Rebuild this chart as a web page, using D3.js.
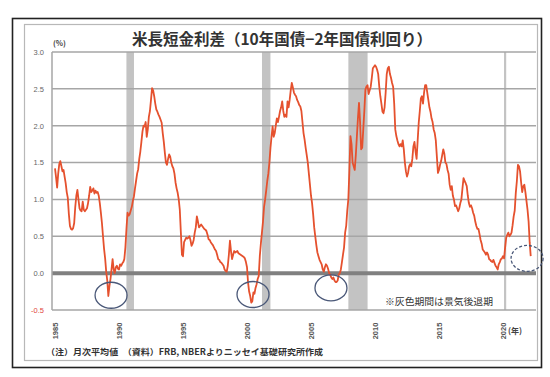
<!DOCTYPE html>
<html>
<head>
<meta charset="utf-8">
<script src="https://cdn.jsdelivr.net/npm/d3@7"></script>
<style>
body { margin: 0; background: #fff; }
text { font-family: "Noto Sans CJK JP", sans-serif; }
</style>
</head>
<body>
<script>
//Width and height
var w = 550;
var h = 377;

// monthly average of 10y - 2y spread (%), from Jan 1985
var startYear = 1985;
var spread = [
  1.42, 1.30, 1.16, 1.35, 1.48, 1.52, 1.45, 1.38, 1.40, 1.31, 1.22, 1.10, // 1985
  1.02, 0.80, 0.64, 0.60, 0.59, 0.61, 0.68, 0.90, 1.05, 1.13, 1.00, 0.88, // 1986
  0.85, 0.84, 0.97, 0.86, 0.84, 0.86, 0.88, 0.95, 1.05, 1.17, 1.10, 1.12, // 1987
  1.15, 1.08, 1.12, 1.09, 1.10, 1.05, 0.95, 0.82, 0.68, 0.50, 0.33, 0.20, // 1988
  0.02, -0.10, -0.31, -0.18, -0.08, 0.05, 0.19, 0.05, 0.00, 0.08, 0.10, 0.06, // 1989
  0.05, 0.12, 0.10, 0.13, 0.15, 0.19, 0.35, 0.60, 0.82, 0.78, 0.80, 0.85, // 1990
  0.90, 0.98, 1.04, 1.15, 1.25, 1.35, 1.41, 1.55, 1.65, 1.78, 1.92, 2.00, // 1991
  1.99, 2.05, 1.85, 1.95, 2.12, 2.20, 2.35, 2.51, 2.48, 2.40, 2.30, 2.22, // 1992
  2.19, 2.15, 2.12, 2.08, 2.04, 1.90, 1.78, 1.63, 1.50, 1.47, 1.55, 1.61, // 1993
  1.58, 1.50, 1.45, 1.42, 1.35, 1.23, 1.15, 1.09, 1.00, 0.86, 0.55, 0.25, // 1994
  0.23, 0.42, 0.45, 0.48, 0.47, 0.48, 0.50, 0.45, 0.37, 0.40, 0.45, 0.55, // 1995
  0.62, 0.77, 0.70, 0.62, 0.64, 0.66, 0.64, 0.62, 0.60, 0.59, 0.57, 0.52, // 1996
  0.46, 0.45, 0.42, 0.40, 0.38, 0.35, 0.32, 0.30, 0.25, 0.19, 0.18, 0.15, // 1997
  0.14, 0.12, 0.10, 0.05, 0.03, 0.02, 0.10, 0.25, 0.44, 0.30, 0.19, 0.25, // 1998
  0.30, 0.28, 0.29, 0.30, 0.27, 0.26, 0.25, 0.24, 0.23, 0.22, 0.20, 0.15, // 1999
  0.08, -0.13, -0.25, -0.31, -0.40, -0.38, -0.26, -0.28, -0.20, -0.15, -0.08, -0.04, // 2000
  0.23, 0.40, 0.55, 0.70, 0.90, 1.00, 1.12, 1.25, 1.35, 1.50, 1.70, 1.85, // 2001
  1.99, 1.85, 1.90, 2.00, 2.10, 2.05, 2.12, 2.20, 2.25, 2.33, 2.20, 2.12, // 2002
  2.15, 2.12, 2.33, 2.25, 2.35, 2.48, 2.58, 2.52, 2.45, 2.42, 2.40, 2.35, // 2003
  2.32, 2.28, 2.26, 2.20, 2.05, 1.90, 1.81, 1.70, 1.60, 1.50, 1.35, 1.20, // 2004
  1.05, 0.95, 0.80, 0.62, 0.50, 0.38, 0.28, 0.23, 0.18, 0.15, 0.12, 0.05, // 2005
  0.02, 0.08, 0.12, 0.10, 0.06, 0.00, -0.02, -0.06, -0.08, -0.06, -0.10, -0.12, // 2006
  -0.12, -0.10, -0.02, 0.00, 0.05, 0.15, 0.25, 0.35, 0.55, 0.64, 0.85, 1.00, // 2007
  1.40, 1.86, 1.75, 1.50, 1.45, 1.40, 1.60, 1.85, 2.10, 2.31, 2.05, 1.68, // 2008
  1.70, 1.95, 2.20, 2.49, 2.53, 2.55, 2.43, 2.48, 2.53, 2.65, 2.78, 2.80, // 2009
  2.82, 2.80, 2.76, 2.70, 2.53, 2.40, 2.30, 2.19, 2.17, 2.25, 2.45, 2.70, // 2010
  2.78, 2.80, 2.70, 2.65, 2.58, 2.53, 2.30, 1.95, 1.86, 1.80, 1.75, 1.72, // 2011
  1.75, 1.72, 1.80, 1.68, 1.50, 1.38, 1.31, 1.36, 1.45, 1.48, 1.45, 1.55, // 2012
  1.72, 1.78, 1.65, 1.55, 1.80, 2.04, 2.20, 2.37, 2.40, 2.30, 2.45, 2.55, // 2013
  2.55, 2.45, 2.35, 2.25, 2.19, 2.10, 2.05, 1.95, 1.90, 1.80, 1.58, 1.36, // 2014
  1.40, 1.47, 1.52, 1.60, 1.68, 1.62, 1.50, 1.48, 1.40, 1.35, 1.20, 1.13, // 2015
  1.18, 1.05, 1.00, 0.91, 0.92, 0.88, 0.84, 0.88, 0.95, 1.00, 1.15, 1.29, // 2016
  1.25, 1.22, 1.18, 1.05, 0.95, 0.90, 0.92, 0.88, 0.82, 0.78, 0.70, 0.64, // 2017
  0.60, 0.60, 0.53, 0.45, 0.40, 0.32, 0.30, 0.28, 0.25, 0.28, 0.25, 0.19, // 2018
  0.18, 0.16, 0.15, 0.18, 0.14, 0.10, 0.08, 0.05, 0.12, 0.15, 0.19, 0.20, // 2019
  0.23, 0.20, 0.35, 0.48, 0.52, 0.55, 0.50, 0.52, 0.55, 0.65, 0.77, 0.85, // 2020
  1.09, 1.25, 1.47, 1.45, 1.38, 1.23, 1.10, 1.18, 1.20, 1.10, 0.98, 0.86, // 2021
  0.70, 0.42, 0.23 // 2022
];

// NBER recessions (shaded)
var recessions = [[1990.58, 1991.17], [2001.17, 2001.83], [2007.92, 2009.42], [2020.08, 2020.25]];

// circled inversions [year, value]
var marks = [[1989.38, -0.30], [2000.47, -0.29], [2006.56, -0.20], [2021.88, 0.20]];

var yTicks = [-0.5, 0, 0.5, 1.0, 1.5, 2.0, 2.5, 3.0];
var yearTicks = [1985, 1990, 1995, 2000, 2005, 2010, 2015, 2020];

var title = "米長短金利差（10年国債−2年国債利回り）";
var note = "（注）月次平均値　（資料）FRB, NBERよりニッセイ基礎研究所作成";
var shadeNote = "※灰色期間は景気後退期";

var pLeft = 52, pRight = 536, pTop = 52, pBottom = 310;

var x = d3.scaleLinear().domain([1985, 2020]).range([55, 503]);
var y = d3.scaleLinear().domain([-0.5, 3.0]).range([pBottom, pTop]);

var data = spread.map(function(v, i){ return { t: startYear + i / 12, v: v }; });

var svg = d3.select("body")
    .append("svg")
    .attr("width", w)
    .attr("height", h);

// frames
svg.append("rect")
    .attr("x", 12.5).attr("y", 18.5)
    .attr("width", 529).attr("height", 349)
    .attr("fill", "none")
    .attr("stroke", "#222")
    .attr("stroke-width", 1.6);

svg.append("rect")
    .attr("x", 24.5).attr("y", 24.5)
    .attr("width", 513).attr("height", 336)
    .attr("fill", "none")
    .attr("stroke", "#b8b8b8")
    .attr("stroke-width", 1.2);

// recession bars
svg.selectAll(".rec")
    .data(recessions)
    .enter()
    .append("rect")
    .attr("class", "rec")
    .attr("x", function(d){ return x(d[0]); })
    .attr("y", pTop)
    .attr("width", function(d){ return Math.max(2, x(d[1]) - x(d[0])); })
    .attr("height", pBottom - pTop)
    .attr("fill", "#c3c3c3");

// horizontal grid
svg.selectAll(".grid")
    .data(yTicks)
    .enter()
    .append("line")
    .attr("class", "grid")
    .attr("x1", pLeft).attr("x2", pRight)
    .attr("y1", function(d){ return y(d); })
    .attr("y2", function(d){ return y(d); })
    .attr("stroke", function(d){ return d === 0 ? "#808080" : "#a6a6a6"; })
    .attr("stroke-width", function(d){ return d === 0 ? 4 : 1.5; });

// y axis line
svg.append("line")
    .attr("x1", pLeft).attr("x2", pLeft)
    .attr("y1", pTop).attr("y2", pBottom)
    .attr("stroke", "#a6a6a6")
    .attr("stroke-width", 1.5);

// y tick labels
var yAxis = d3.axisLeft(y)
    .tickValues(yTicks)
    .tickSize(0)
    .tickPadding(8)
    .tickFormat(function(d){ return d3.format(".1f")(d).replace("−", "-"); });

var gy = svg.append("g")
    .attr("transform", "translate(" + pLeft + ",0)")
    .call(yAxis);
gy.select(".domain").remove();
gy.selectAll("text")
    .attr("font-size", 7.5)
    .attr("fill", function(d){ return d < 0 ? "#e0463c" : "#666"; })
    .style("font-family", "'Liberation Sans', sans-serif");

// x tick labels (vertical)
var xAxis = d3.axisBottom(x)
    .tickValues(yearTicks)
    .tickSize(0)
    .tickFormat(d3.format("d"));

var gx = svg.append("g")
    .attr("transform", "translate(0," + pBottom + ")")
    .call(xAxis);
gx.select(".domain").remove();
gx.selectAll("text")
    .attr("transform", "translate(0,21) rotate(-90)")
    .attr("y", 0)
    .attr("dy", "0.35em")
    .attr("text-anchor", "middle")
    .attr("font-size", 7.5)
    .attr("font-weight", "bold")
    .attr("fill", "#555")
    .style("font-family", "'Liberation Sans', sans-serif");

// spread line
var line = d3.line()
    .x(function(d){ return x(d.t); })
    .y(function(d){ return y(d.v); });

svg.append("path")
    .datum(data)
    .attr("fill", "none")
    .attr("stroke", "#e5512e")
    .attr("stroke-width", 1.8)
    .attr("stroke-linejoin", "round")
    .attr("d", line);

// circles
svg.selectAll(".mark")
    .data(marks)
    .enter()
    .append("ellipse")
    .attr("class", "mark")
    .attr("cx", function(d){ return x(d[0]); })
    .attr("cy", function(d){ return y(d[1]); })
    .attr("rx", 16)
    .attr("ry", 13)
    .attr("fill", "none")
    .attr("stroke", "#4a5878")
    .attr("stroke-width", 1.3)
    .attr("stroke-dasharray", function(d, i){ return i === 3 ? "3,2" : null; });

// texts
svg.append("text")
    .attr("x", 132).attr("y", 45)
    .attr("font-size", 15.5)
    .attr("font-weight", "bold")
    .attr("fill", "#333")
    .attr("textLength", 300)
    .attr("lengthAdjust", "spacingAndGlyphs")
    .text(title);

svg.append("text")
    .attr("x", 53).attr("y", 46)
    .attr("font-size", 7.5)
    .attr("font-weight", "bold")
    .attr("fill", "#444")
    .text("(%)");

svg.append("text")
    .attr("x", 508).attr("y", 334)
    .attr("font-size", 8)
    .attr("font-weight", "bold")
    .attr("fill", "#444")
    .text("(年)");

svg.append("text")
    .attr("x", 385).attr("y", 305)
    .attr("font-size", 9.5)
    .attr("fill", "#333")
    .attr("textLength", 108)
    .attr("lengthAdjust", "spacingAndGlyphs")
    .text(shadeNote);

svg.append("text")
    .attr("x", 46).attr("y", 355)
    .attr("font-size", 8.5)
    .attr("font-weight", "bold")
    .attr("fill", "#333")
    .attr("textLength", 277)
    .attr("lengthAdjust", "spacingAndGlyphs")
    .text(note);
</script>
</body>
</html>
